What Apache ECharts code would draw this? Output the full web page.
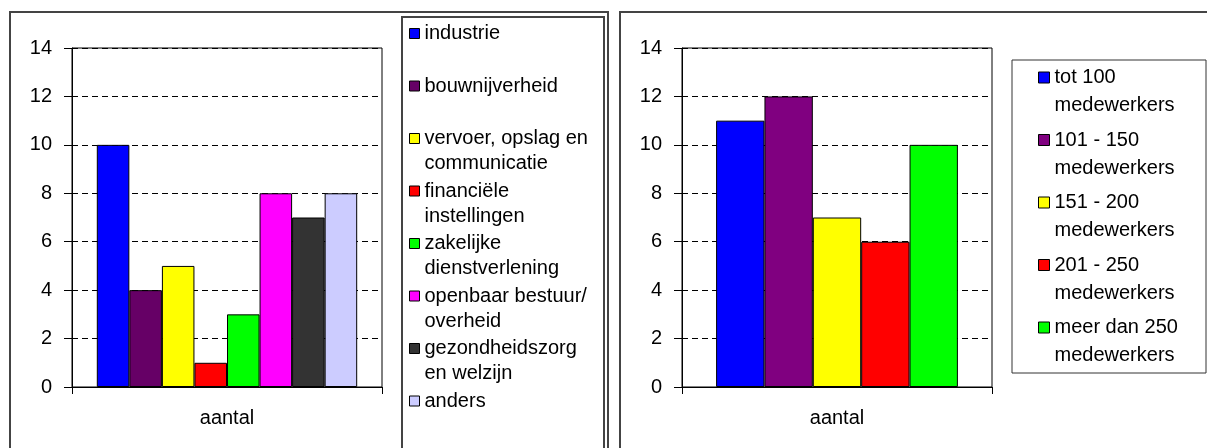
<!DOCTYPE html>
<html>
<head>
<meta charset="utf-8">
<script src="https://cdn.jsdelivr.net/npm/echarts@6/dist/echarts.min.js"></script>
<style>
    html, body { margin: 0; padding: 0; background: #fff; }
    #main { width: 1207px; height: 448px; }
</style>
</head>
<body>
<div id="main"></div>
<script>
// links: aantal per sector
var sectorNames = ['industrie', 'bouwnijverheid', 'vervoer, opslag en communicatie', 'financiële instellingen',
    'zakelijke dienstverlening', 'openbaar bestuur/ overheid', 'gezondheidszorg en welzijn', 'anders'];
var sectorLabels = ['industrie\n ', 'bouwnijverheid\n ', 'vervoer, opslag en\ncommunicatie', 'financiële\ninstellingen',
    'zakelijke\ndienstverlening', 'openbaar bestuur/\noverheid', 'gezondheidszorg\nen welzijn', 'anders\n '];
var sectorCounts = [10, 4, 5, 1, 3, 8, 7, 8];
var sectorColors = ['#0000ff', '#660066', '#ffff00', '#ff0000', '#00ff00', '#ff00ff', '#333333', '#ccccff'];

// rechts: aantal per bedrijfsgrootte
var sizeNames = ['tot 100 medewerkers', '101 - 150 medewerkers', '151 - 200 medewerkers',
    '201 - 250 medewerkers', 'meer dan 250 medewerkers'];
var sizeLabels = ['tot 100\nmedewerkers', '101 - 150\nmedewerkers', '151 - 200\nmedewerkers',
    '201 - 250\nmedewerkers', 'meer dan 250\nmedewerkers'];
var sizeCounts = [11, 12, 7, 6, 10];
var sizeColors = ['#0000ff', '#800080', '#ffff00', '#ff0000', '#00ff00'];

var categories = ['aantal'];
var yMin = 0, yMax = 14, yStep = 2;

var font = 'Liberation Sans, Arial, sans-serif';

// legend icon: square on the first text line, rest of the item height kept empty
var iconLeft = 'path://M0,0L0.01,0M0,7.5H10V17.5H0ZM0,50L0.01,50';
var iconRight = 'path://M0,0L0.01,0M0,8.5H11V19.5H0ZM0,56L0.01,56';

function makeX(gridIndex) {
    return {
        type: 'category',
        gridIndex: gridIndex,
        data: categories,
        axisLine: { lineStyle: { color: '#000', width: 1 } },
        axisTick: { show: true, length: 7, lineStyle: { color: '#000' } },
        axisLabel: { margin: 21, color: '#000', fontSize: 20, fontFamily: font }
    };
}

function makeY(gridIndex) {
    return {
        type: 'value',
        gridIndex: gridIndex,
        min: yMin,
        max: yMax,
        interval: yStep,
        axisLine: { show: true, lineStyle: { color: '#000', width: 1 } },
        axisTick: { show: true, length: 8, lineStyle: { color: '#000' } },
        axisLabel: { margin: 20, color: '#000', fontSize: 20, fontFamily: font },
        splitLine: { show: true, lineStyle: { color: '#000', type: [6, 4], width: 1 } }
    };
}

var series = [];
sectorNames.forEach(function (name, i) {
    series.push({
        name: name,
        type: 'bar',
        xAxisIndex: 0,
        yAxisIndex: 0,
        data: [sectorCounts[i]],
        barGap: 0,
        barCategoryGap: '16%',
        itemStyle: { color: sectorColors[i], borderColor: '#000', borderWidth: 1 },
        emphasis: { disabled: true }
    });
});
sizeNames.forEach(function (name, i) {
    series.push({
        name: name,
        type: 'bar',
        xAxisIndex: 1,
        yAxisIndex: 1,
        data: [sizeCounts[i]],
        barGap: 0,
        barCategoryGap: '22%',
        itemStyle: { color: sizeColors[i], borderColor: '#000', borderWidth: 1 },
        emphasis: { disabled: true }
    });
});

var myChart = echarts.init(document.getElementById('main'));
var option = {
    backgroundColor: '#fff',
    animation: false,
    grid: [
        { left: 72, top: 48, width: 310, height: 339, show: true, borderColor: '#000', borderWidth: 1 },
        { left: 682, top: 48, width: 310, height: 339, show: true, borderColor: '#000', borderWidth: 1 }
    ],
    xAxis: [makeX(0), makeX(1)],
    yAxis: [makeY(0), makeY(1)],
    legend: [{
        data: sectorNames,
        orient: 'vertical',
        left: 409,
        top: 20.5,
        padding: 0,
        itemGap: 1.5,
        itemWidth: 10,
        itemHeight: 50,
        icon: iconLeft,
        selectedMode: false,
        itemStyle: { borderColor: '#000', borderWidth: 1 },
        formatter: function (name) {
            return sectorLabels[sectorNames.indexOf(name)];
        },
        textStyle: { color: '#000', fontSize: 20, fontFamily: font, lineHeight: 25 }
    }, {
        data: sizeNames,
        orient: 'vertical',
        left: 1038,
        top: 63,
        padding: 0,
        itemGap: 5.5,
        itemWidth: 11,
        itemHeight: 56,
        icon: iconRight,
        selectedMode: false,
        itemStyle: { borderColor: '#000', borderWidth: 1 },
        formatter: function (name) {
            return sizeLabels[sizeNames.indexOf(name)];
        },
        textStyle: { color: '#000', fontSize: 20, fontFamily: font, lineHeight: 28 }
    }],
    graphic: [
        // kaders
        { type: 'rect', shape: { x: 10, y: 12, width: 598, height: 460 }, style: { fill: 'none', stroke: '#444', lineWidth: 2 } },
        { type: 'rect', shape: { x: 402, y: 17, width: 202, height: 460 }, style: { fill: 'none', stroke: '#444', lineWidth: 2 } },
        { type: 'rect', shape: { x: 620, y: 12, width: 600, height: 460 }, style: { fill: 'none', stroke: '#444', lineWidth: 2 } },
        { type: 'rect', shape: { x: 1012, y: 60, width: 194, height: 313 }, style: { fill: 'none', stroke: '#333', lineWidth: 1 } }
    ],
    series: series
};
myChart.setOption(option);
</script>
</body>
</html>
